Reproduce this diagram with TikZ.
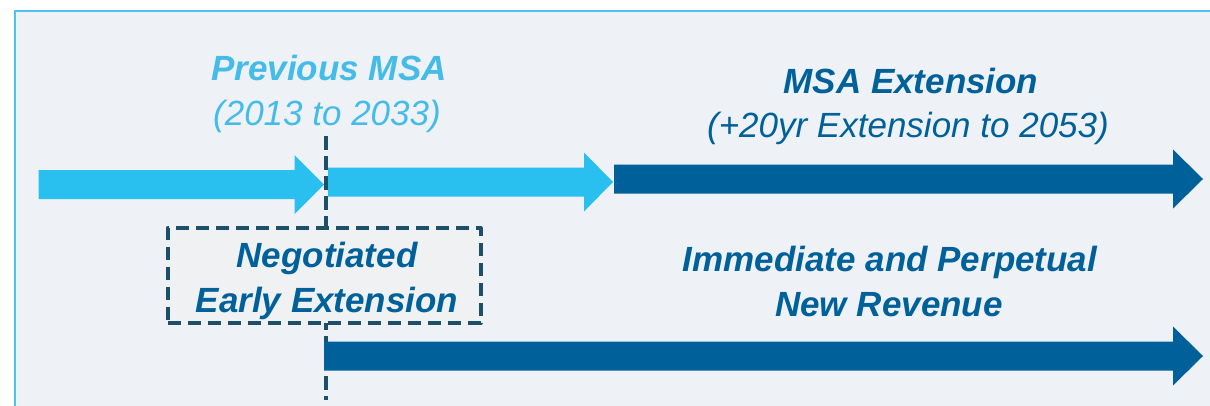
\documentclass[tikz,border=0pt]{standalone}
\usepackage{fontspec}
\setmainfont{Liberation Sans}
\definecolor{panelbg}{HTML}{EEF2F6}
\definecolor{panelrule}{HTML}{4DC3F0}
\definecolor{lightarrow}{HTML}{29BFEF}
\definecolor{lighttext}{HTML}{45BBE8}
\definecolor{deepblue}{HTML}{00619A}
\definecolor{slate}{HTML}{1D4F68}
\definecolor{boxfill}{HTML}{F0F1F2}
% block arrow: #1 colour, #2 tail x, #3 head base x, #4 tip x, #5 centre y
\newcommand\blockarrow[5]{%
  \fill[#1] (#2,{#5-14.5}) -- (#3,{#5-14.5}) -- (#3,{#5-29.5}) -- (#4,#5)
    -- (#3,{#5+29.5}) -- (#3,{#5+14.5}) -- (#2,{#5+14.5}) -- cycle;}
\begin{document}
\begin{tikzpicture}[x=1pt,y=-1pt,
  label/.style={inner sep=0pt,anchor=base,font=\fontsize{35}{45}\selectfont},
  head/.style={label,font=\fontsize{35}{45}\selectfont\bfseries\itshape},
  sub/.style={label,font=\fontsize{35}{45}\selectfont\itshape},
  cutline/.style={draw=slate,line width=4pt,dash pattern=on 14pt off 6pt},
  earlybox/.style={draw=slate,fill=boxfill,line width=4pt,line join=round,
    dash pattern=on 13pt off 7pt,
    minimum width=313pt,minimum height=95pt,inner sep=0pt}]
\useasboundingbox (0,0) rectangle (1210,405);
% panel
\fill[white] (0,0) rectangle (1210,405);
\draw[panelrule,fill=panelbg,line width=2.5pt] (15,11) rectangle (1225,420);
% date marker
\coordinate (cuttop) at (325.5,136);
\coordinate (cutbot) at (325.5,400);
\draw[cutline] (cuttop) -- (cutbot);
% negotiated early extension box
\node[earlybox] (early) at (324,275.5) {};
\node[head,text=deepblue] (neg1) at (327,267) {Negotiated};
\node[head,text=deepblue] (neg2) at (327,312) {Early Extension};
% timeline arrows
\blockarrow{lightarrow}{38.7}{294.5}{324}{184.5}
\blockarrow{lightarrow}{328}{584}{613}{182}
\blockarrow{deepblue}{614}{1173}{1203}{179}
\blockarrow{deepblue}{324}{1173}{1203}{356}
% labels
\node[head,text=lighttext] (prev) at (329,80) {Previous MSA};
\node[sub,text=lighttext] (prevyrs) at (327,125) {(2013 to 2033)};
\node[head,text=deepblue] (ext) at (911,93) {MSA Extension};
\node[sub,text=deepblue] (extyrs) at (908,137) {(+20yr Extension to 2053)};
\node[head,text=deepblue] (rev1) at (890,271) {Immediate and Perpetual};
\node[head,text=deepblue] (rev2) at (889,316) {New Revenue};
\end{tikzpicture}
\end{document}
